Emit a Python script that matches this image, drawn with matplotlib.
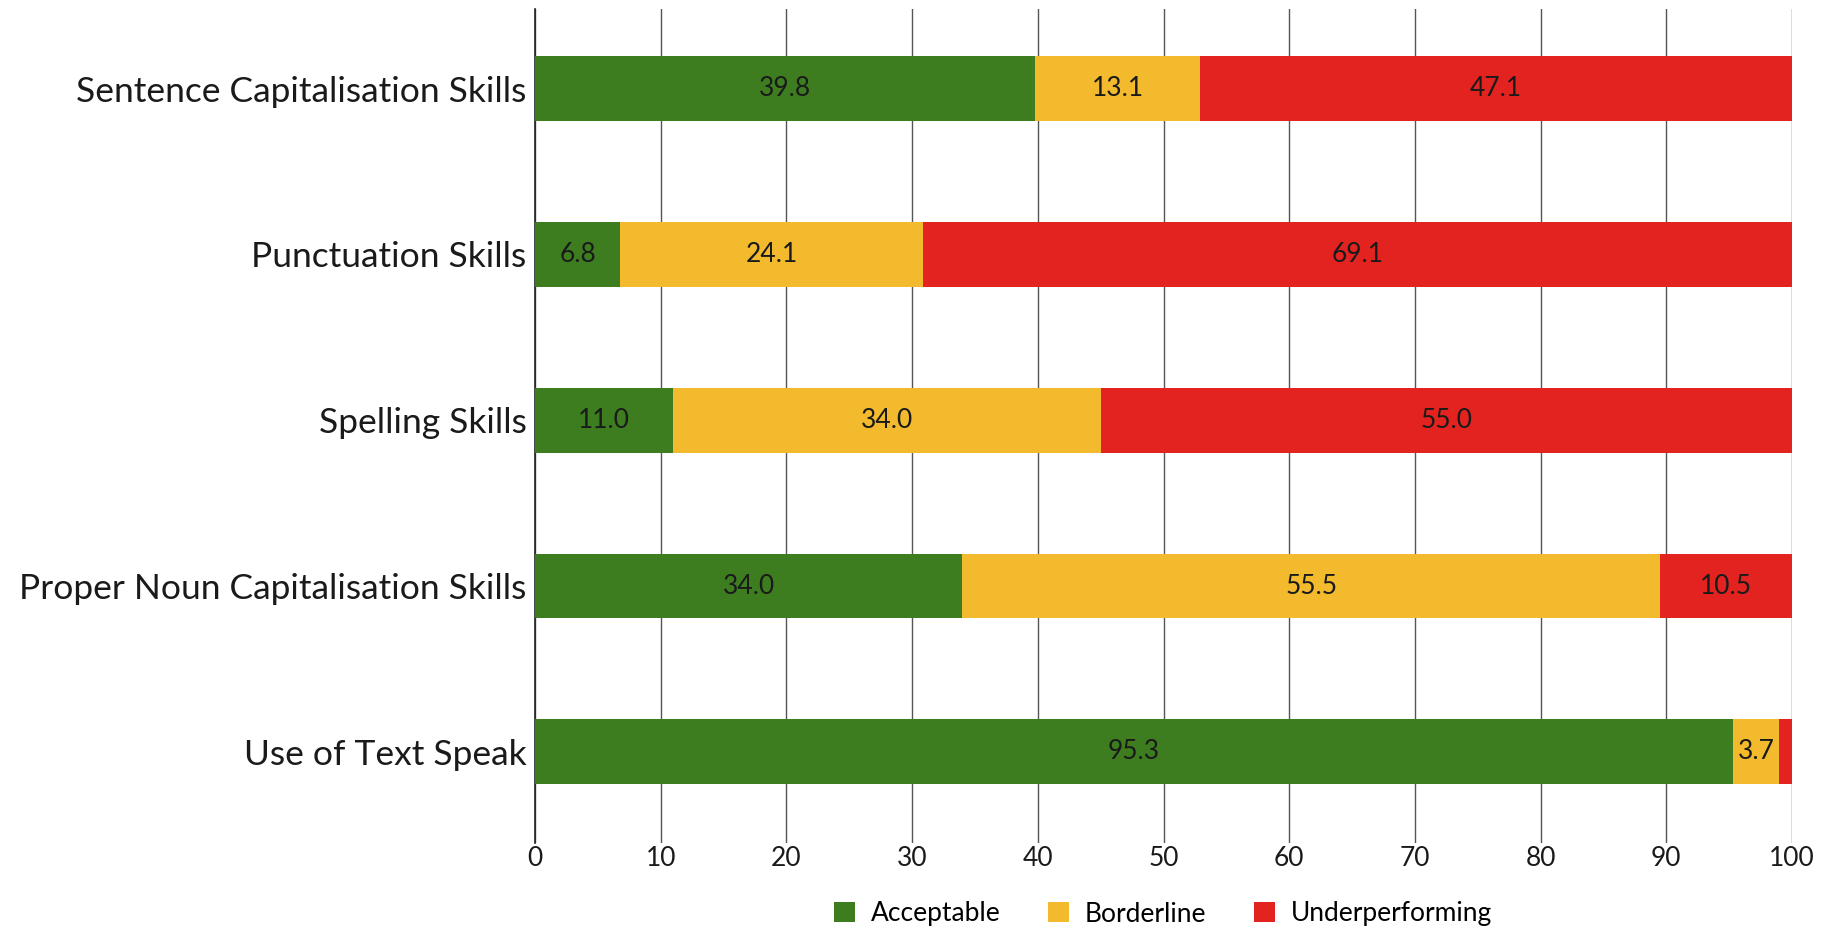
import numpy as np
import matplotlib
matplotlib.use("Agg")
import matplotlib.pyplot as plt

# ---- data ----
skills = ["Sentence Capitalisation Skills", "Punctuation Skills", "Spelling Skills",
          "Proper Noun Capitalisation Skills", "Use of Text Speak"]
acceptable = [39.8, 6.8, 11.0, 34.0, 95.3]
borderline = [13.1, 24.1, 34.0, 55.5, 3.7]
underperforming = [47.1, 69.1, 55.0, 10.5, 1.0]
series_names = ["Acceptable", "Borderline", "Underperforming"]
colors = ["#3d7d20", "#f2ba2c", "#e2231f"]
xticks = list(range(0, 101, 10))

plt.rcParams['font.family'] = ['Lato', 'DejaVu Sans']

fig = plt.figure(figsize=(18.37, 9.33), dpi=100)
ax = fig.add_axes([535 / 1837, 1 - 843 / 933, (1792 - 535) / 1837, (843 - 9) / 933])

y = np.arange(len(skills))
left = np.zeros(len(skills))
for vals, name, col in zip([acceptable, borderline, underperforming], series_names, colors):
    vals = np.array(vals)
    bars = ax.barh(y, vals, left=left, height=0.39, color=col, label=name, zorder=3)
    for b, v, l in zip(bars, vals, left):
        if v >= 2:
            ax.text(l + v / 2, b.get_y() + b.get_height() / 2, f"{v:.1f}",
                    ha="center", va="center", fontsize=19, color="#1a1a1a", zorder=4)
    left = left + vals

ax.set_xlim(0, 100)
ax.set_ylim(4.55, -0.48)
ax.set_yticks(y)
ax.set_yticklabels(skills, fontsize=25.5, color="#1a1a1a")
ax.set_xticks(xticks)
ax.set_xticklabels([str(t) for t in xticks], fontsize=19, color="#1a1a1a")
ax.tick_params(axis="both", length=0, pad=6)
ax.tick_params(axis="x", pad=2)
ax.grid(axis="x", color="#555555", linewidth=1.0, zorder=0)
for s in ["top", "right", "bottom"]:
    ax.spines[s].set_visible(False)
ax.spines["left"].set_color("#222222")
ax.spines["left"].set_linewidth(1.2)

fig.legend(*ax.get_legend_handles_labels(), loc="center", bbox_to_anchor=(1163 / 1837, 1 - 914 / 933),
           ncol=3, frameon=False, fontsize=19, handlelength=0.8, handleheight=0.8,
           columnspacing=1.8, handletextpad=0.6)

fig.savefig("out.png", dpi=100, facecolor="white")
